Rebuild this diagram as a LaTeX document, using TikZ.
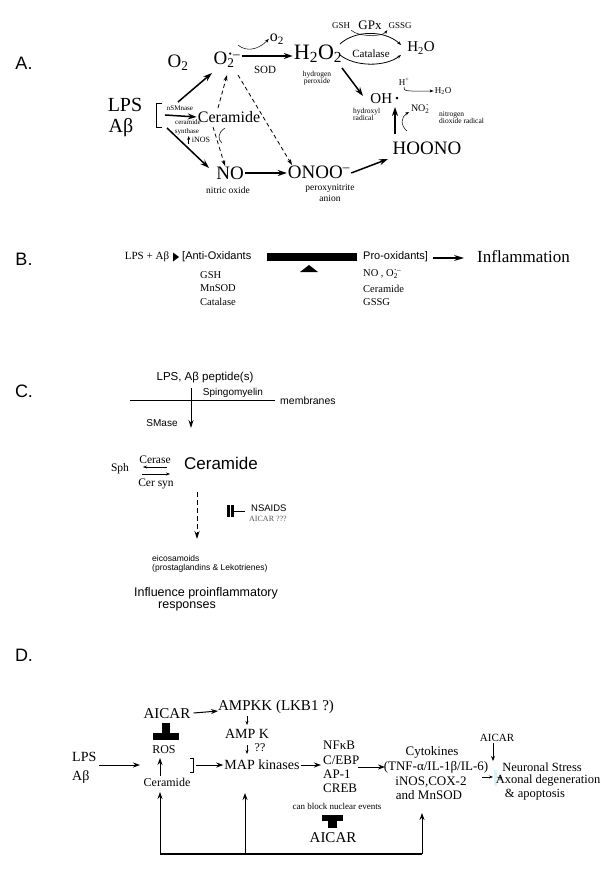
\documentclass[tikz,border=0pt]{standalone}
\usepackage{fontspec}
\setmainfont{Liberation Serif}
\setsansfont{Liberation Sans}
\usetikzlibrary{arrows.meta}
\newcommand\fz[1]{\fontsize{#1}{#1}\selectfont}
\newcommand\supox{O\rlap{\textsubscript{2}}\textsuperscript{\kern0.05em\textbf{·}\kern0.05em–}}
\begin{document}
\begin{tikzpicture}[x=1pt,y=-1pt,
  every node/.style={inner sep=1pt},
  big/.style={-{Stealth[length=9pt,width=6pt]}, line width=1.5pt},
  med/.style={-{Stealth[length=7pt,width=5pt]}, line width=1pt},
  thin/.style={-{Stealth[length=4pt,width=3pt]}, line width=0.5pt},
  dsh/.style={dash pattern=on 4pt off 3pt, line width=0.8pt, -{Stealth[length=6pt,width=4pt]}},
  lab/.style={font=\sffamily\fz{18}}]
\useasboundingbox (0,0) rectangle (600,877);
\fill[white] (0,0) rectangle (600,877);

% ---------------- Panel A ----------------
\node[lab] (labA) at (24,63) {A.};
\node[font=\fz{20}] (lps) at (125,105) {LPS};
\node[font=\fz{20}] (ab) at (121,128) {Aβ};
\draw[line width=1pt] (162,104) -- (156,104) -- (156,128) -- (162,128);
\node[font=\fz{19}] (o2a) at (178,63) {O\textsubscript{2}};
\node[font=\fz{19}] (sox) at (227,60) {\supox};
\node[font=\fz{16}] (o2b) at (277,39) {o\textsubscript{2}};
\node[font=\fz{22}] (h2o2) at (318,54) {H\textsubscript{2}O\textsubscript{2}};
\node[font=\fz{11}] (sod) at (265,70) {SOD};
\node[font=\fz{7.5}, align=center] (hp) at (317,78) {hydrogen\\[-0.5pt]peroxide};
\node[font=\fz{9}] (gsh) at (341,26) {GSH};
\node[font=\fz{13}] (gpx) at (370,25) {GPx};
\node[font=\fz{9}] (gssg) at (400,26) {GSSG};
\node[font=\fz{15}] (h2o) at (421,48) {H\textsubscript{2}O};
\node[font=\fz{11}] (cat) at (371,54) {Catalase};
\node[font=\fz{15}] (oh) at (385,99) {OH\,\textbf{·}};
\node[font=\fz{7.5}, align=left, anchor=west] (hyd) at (352,114) {hydroxyl\\[-0.5pt]radical};
\node[font=\fz{9}] (hplus) at (404,82) {H\textsuperscript{+}};
\node[font=\fz{9}] (h2ob) at (443,91) {H\textsubscript{2}O};
\node[font=\fz{10}] (no2) at (420,109) {NO\rlap{\textsubscript{2}}\textsuperscript{\kern0.1em\textbf{·}}};
\node[font=\fz{7.5}, align=left, anchor=west] (ndr) at (438,118) {nitrogen\\[-0.5pt]dioxide radical};
\node[font=\fz{19}] (hoono) at (427,148) {HOONO};
\node[font=\fz{19}] (onoo) at (319,172) {ONOO\textsuperscript{–}};
\node[font=\fz{9.5}, align=center] (pna) at (330,193) {peroxynitrite\\[1pt]anion};
\node[font=\fz{16}] (cer) at (229,117) {Ceramide};
\node[font=\fz{7}] (nsm) at (180,108) {nSMnase};
\node[font=\fz{7}] (cerl) at (188,122) {ceramide};
\node[font=\fz{7}] (syn) at (187,132) {synthase};
\node[font=\fz{8}] (inos) at (201,140) {iNOS};
\node[font=\fz{19}] (no) at (230,173) {NO};
\node[font=\fz{9.5}] (nox) at (228,190) {nitric oxide};

\coordinate (a1s) at (178,102);
\coordinate (a2s) at (165,115);
\coordinate (a3s) at (167,128);
\draw[big] (a1s) -- (212,73) coordinate (a1e);
\draw[big] (a2s) -- (cer.west);
\draw[big] (a3s) -- (209,168) coordinate (a3e);
\draw[thin] (inos.west) ++(-2,4) coordinate (i1) -- ++(0,-8) coordinate (i2);
\draw[big] (no.east) -- (onoo.west |- no.east);
\draw[big] (sox.east |- h2o2.west) ++(0,2) coordinate (s1) -- (h2o2.west |- s1);
\draw[dsh] (218,108) coordinate (d1s) -- (227,75) coordinate (d1e);
\draw[dsh] (238,75) coordinate (d2s) -- (292,165) coordinate (d2e);
\draw[dsh] (213,127) coordinate (d3s) -- (225,166) coordinate (d3e);
\draw[line width=0.5pt] (225,128) coordinate (c1) .. controls (217,133) and (218,140) .. (222,143) coordinate (c2);
\draw[thin] (238,45) coordinate (c3) .. controls (246,52) and (258,50) .. (o2b.west);
\draw[thin, line width=0.8pt] (340,44) coordinate (g1) .. controls (355,30) and (385,30) .. (401,45) coordinate (g2);
\draw[thin] (gsh.south east) .. controls (358,37) and (382,37) .. (gssg.south west);
\draw[thin, line width=0.8pt] (340,55) coordinate (k1) .. controls (355,67) and (385,67) .. (401,55) coordinate (k2);
\draw[big] (342,68) coordinate (e1) -- (363,96) coordinate (e2);
\draw[thin] (hplus.south) .. controls (402,92) and (410,91) .. (h2ob.west);
\draw[big] (395,134) coordinate (f1) -- (395,107) coordinate (f2);
\draw[thin] (407,131) coordinate (f3) .. controls (400,125) and (401,117) .. (409,112) coordinate (f4);
\draw[big] (onoo.east) ++(0,1) coordinate (o1) -- (388,159) coordinate (o2);

% ---------------- Panel B ----------------
\node[lab] (labB) at (24,259) {B.};
\node[font=\fz{11}] (lpsab) at (147,257) {LPS + Aβ};
\fill (173,252.5) -- (179,257) -- (173,261.5) -- cycle;
\node[font=\sffamily\fz{11}, anchor=west] (anti) at (181,257) {[Anti-Oxidants};
\fill (267,253) rectangle (357,261);
\fill (300,272) -- (309,265) -- (318,272) -- cycle;
\node[font=\sffamily\fz{11}, anchor=west] (pro) at (362,257) {Pro-oxidants]};
\node[font=\fz{17}, anchor=west] (infl) at (476,257) {Inflammation};
\draw[-{Stealth[length=10pt,width=6pt]}, line width=1.3pt] (pro.east) ++(4,1) coordinate (p1) -- (464,258) coordinate (p2);
\node[font=\fz{10.5}, anchor=west] (gshB) at (199,275) {GSH};
\node[font=\fz{10.5}, anchor=west] (mnsB) at (199,288) {MnSOD};
\node[font=\fz{10.5}, anchor=west] (catB) at (199,302) {Catalase};
\node[font=\fz{10.5}, anchor=west] (noB) at (362,274) {NO , \supox};
\node[font=\fz{10.5}, anchor=west] (cerB) at (362,288.5) {Ceramide};
\node[font=\fz{10.5}, anchor=west] (gssgB) at (362,302) {GSSG};

% ---------------- Panel C ----------------
\node[lab] (labC) at (24,391) {C.};
\node[font=\sffamily\fz{11.5}] (lpsp) at (205,378) {LPS, Aβ peptide(s)};
\draw[line width=0.9pt] (130,400) coordinate (m1) -- (275,400) coordinate (m2);
\node[font=\sffamily\fz{10}] (sping) at (233,393) {Spingomyelin};
\node[font=\sffamily\fz{10.5}, anchor=west] (memb) at (279,401) {membranes};
\draw[-{Stealth[length=8pt,width=5pt]}, line width=0.9pt] (191,388) coordinate (v1) -- (191,428) coordinate (v2);
\node[font=\sffamily\fz{10}] (smase) at (162,423) {SMase};
\node[font=\fz{11.5}] (sph) at (120,469) {Sph};
\node[font=\fz{11.5}] (cerase) at (155,460) {Cerase};
\node[font=\fz{11.5}] (cersyn) at (156,484) {Cer syn};
\draw[thin] (167,467) coordinate (q1) -- (143,467) coordinate (q2);
\draw[thin] (142,474) coordinate (q3) -- (170,474) coordinate (q4);
\node[font=\sffamily\fz{17}] (cerC) at (221,463) {Ceramide};
\draw[dash pattern=on 5pt off 3pt, line width=1pt, -{Stealth[length=8pt,width=5pt]}] (197,492) coordinate (w1) -- (197,539) coordinate (w2);
\fill (227,505) rectangle (229.6,517);
\fill (231,505) rectangle (233.6,517);
\draw[line width=0.8pt] (233,511) coordinate (u1) -- (245,511) coordinate (u2);
\node[font=\sffamily\fz{9.5}, anchor=west] (nsaid) at (250,508) {NSAIDS};
\node[font=\fz{8}, text=black!65, anchor=west] (aicC) at (248,519) {AICAR ???};
\node[font=\sffamily\fz{8.5}, anchor=west] (eico) at (151,558) {eicosamoids};
\node[font=\sffamily\fz{8.5}, anchor=west] (prost) at (151,568) {(prostaglandins \& Lekotrienes)};
\node[font=\sffamily\fz{12.5}] (infl1) at (206,593) {Influence proinflammatory};
\node[font=\sffamily\fz{12.5}] (infl2) at (187,606) {responses};

% ---------------- Panel D ----------------
\node[lab] (labD) at (24,655) {D.};
\node[font=\fz{14}, anchor=west] (lpsD) at (71,757) {LPS};
\node[font=\fz{14}, anchor=west] (abD) at (71,777) {Aβ};
\draw[med] (99,765) coordinate (l1) -- (140,765) coordinate (l2);
\node[font=\fz{15}] (aic1) at (167,714) {AICAR};
\node[font=\fz{15}] (ampkk) at (276,707) {AMPKK (LKB1 ?)};
\draw[med] (aic1.east) ++(2,-1) coordinate (b1) -- (218,711) coordinate (b2);
\node[font=\fz{14}] (ampk) at (247,734) {AMP K};
\draw[thin] (247,716) coordinate (s2) -- (247,725) coordinate (s3);
\draw[thin] (247,745) coordinate (s4) -- (247,754) coordinate (s5);
\node[font=\fz{12}] (qq) at (260,748) {??};
\node[font=\fz{14}] (map) at (262,765) {MAP kinases};
\fill (153,733) rectangle (179,740);
\fill (162,723) rectangle (170,734);
\node[font=\fz{12}] (ros) at (164,750) {ROS};
\node[font=\fz{12}] (cerD) at (167,782) {Ceramide};
\draw[med] (160,776) coordinate (r1) -- (160,758) coordinate (r2);
\draw[line width=0.8pt] (190,758) -- (193,758) -- (193,772) -- (190,772);
\draw[med] (196,765) coordinate (j1) -- (map.west);
\draw[med] (map.east) -- (321,765) coordinate (j2);
\node[font=\fz{13}, anchor=west] (nfkb) at (322,745) {NFκB};
\node[font=\fz{13}, anchor=west] (cebp) at (322,760) {C/EBP};
\node[font=\fz{13}, anchor=west] (ap1) at (322,774) {AP-1};
\node[font=\fz{13}, anchor=west] (creb) at (322,788) {CREB};
\node[font=\fz{9}] (canb) at (337,806) {can block nuclear events};
\fill (322,815) rectangle (343,821);
\fill (328,820) rectangle (337,828);
\node[font=\fz{15}] (aic2) at (333,838) {AICAR};
\draw[med] (358,767) coordinate (n1) -- (385,767) coordinate (n2);
\node[font=\fz{13}] (cyto1) at (432,752) {Cytokines};
\node[font=\fz{13}] (cyto2) at (436,767) {(TNF-α/IL-1β/IL-6)};
\node[font=\fz{13}] (cyto3) at (431,782) {iNOS,COX-2};
\node[font=\fz{13}] (cyto4) at (429,795) {and MnSOD};
\node[font=\fz{11}] (aic3) at (497,738) {AICAR};
\draw[-{Stealth[length=5pt,width=4pt]}, line width=0.8pt] (aic3.south) ++(-4,0) coordinate (t1) -- (493,761) coordinate (t2);
\draw[-{Stealth[length=4pt,width=3pt]}, line width=0.8pt] (482,777) coordinate (t3) -- (493,777) coordinate (t4);
\fill[cyan!15] (494,770) rectangle (497,786);
\draw[-{Stealth[length=3pt,width=2.5pt]}, line width=0.5pt] (497,777) coordinate (t5) -- (502,778) coordinate (t6);
\node[font=\fz{12.5}] (neu1) at (542,767) {Neuronal Stress};
\node[font=\fz{12.5}] (neu2) at (548,781) {Axonal degeneration};
\node[font=\fz{12.5}] (neu3) at (535,795) {\& apoptosis};
\draw[line width=1.2pt] (160,854) coordinate (h1) -- (422,854) coordinate (h3);
\coordinate (h2) at (245,854);
\draw[med] (h1) -- (160,792);
\draw[med] (h2) -- (245,793);
\draw[med] (h3) -- (422,813);
\end{tikzpicture}
\end{document}
